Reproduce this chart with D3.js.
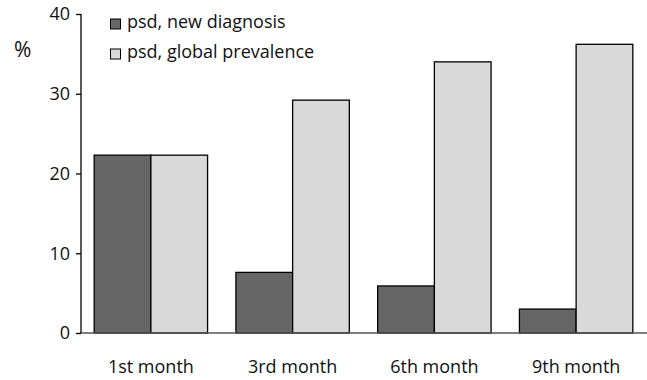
<!DOCTYPE html>
<html><head><meta charset="utf-8">
<script src="https://cdn.jsdelivr.net/npm/d3@7"></script>
<style>body{margin:0;background:#fff}svg{display:block}text{font-family:"Open Sans",sans-serif;fill:#111}</style>
</head><body><svg id="c" width="647" height="380"></svg>
<script>
const categories = ["1st month","3rd month","6th month","9th month"];
const seriesNames = ["psd, new diagnosis","psd, global prevalence"];
const newDiagnosis = [22.3, 7.6, 5.9, 3.0];
const globalPrevalence = [22.3, 29.2, 34.0, 36.2];
const yTicks = [0,10,20,30,40];
const colors = ["#666666","#d9d9d9"];

const svg = d3.select("#c");
const x0 = d3.scaleBand().domain(categories).range([80, 647]).paddingInner(0.2).paddingOuter(0.1);
const x1 = d3.scaleBand().domain([0,1]).range([0, x0.bandwidth()]);
const y = d3.scaleLinear().domain([0,40]).range([333, 14]);

const data = categories.map((c,i)=>({cat:c, vals:[newDiagnosis[i], globalPrevalence[i]]}));

const g = svg.append("g");
g.selectAll("g.grp").data(data).join("g").attr("class","grp")
 .attr("transform", d=>`translate(${x0(d.cat)},0)`)
 .selectAll("rect").data(d=>d.vals.map((v,j)=>({v,j}))).join("rect")
 .attr("x", d=>x1(d.j)).attr("width", x1.bandwidth())
 .attr("y", d=>y(d.v)).attr("height", d=>y(0)-y(d.v))
 .attr("fill", d=>colors[d.j]).attr("stroke","#000").attr("stroke-width",1.3);

// x baseline
svg.append("line").attr("x1",81).attr("x2",647).attr("y1",y(0)).attr("y2",y(0))
 .attr("stroke","#555").attr("stroke-width",1.5);

// y axis
const ya = svg.append("g").attr("transform","translate(81,0)")
 .call(d3.axisLeft(y).tickValues(yTicks).tickSize(5).tickPadding(6));
ya.select(".domain").attr("stroke","#000").attr("stroke-width",1.3).attr("d","M0,"+y(40)+"V"+y(0));
ya.selectAll(".tick line").attr("stroke","#000").attr("stroke-width",1.3);
ya.selectAll(".tick text").style("font-size","18px").attr("fill","#111");

// x labels
const xa = svg.append("g").attr("transform",`translate(0,${y(0)})`)
 .call(d3.axisBottom(x0).tickSize(0).tickPadding(27));
xa.select(".domain").remove();
xa.selectAll(".tick text").style("font-size","18px").attr("fill","#111");

// % label
svg.append("text").attr("x",14).attr("y",57).style("font-size","21px").text("%");

// legend
const leg = svg.append("g");
seriesNames.forEach((s,i)=>{
  const yy = 19 + i*30;
  leg.append("rect").attr("x",110.5).attr("y",yy).attr("width",10).attr("height",10)
    .attr("fill",colors[i]).attr("stroke","#000").attr("stroke-width",1);
  leg.append("text").attr("x",127).attr("y",yy+9).style("font-size","18px").text(s);
});
</script></body></html>
